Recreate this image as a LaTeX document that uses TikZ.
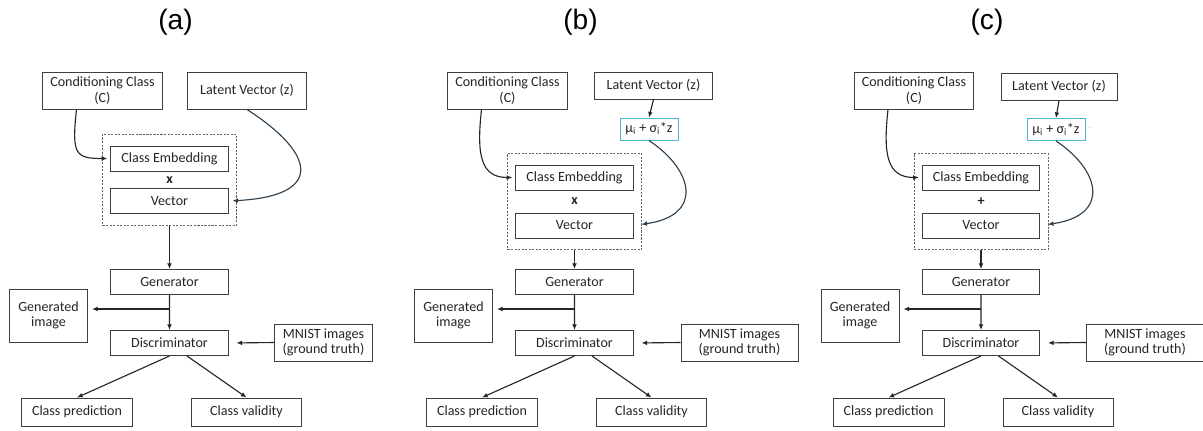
\documentclass[tikz,border=0pt]{standalone}
\usepackage{fontspec}
\setmainfont{Carlito}
\newfontfamily\titlefont{Liberation Sans}
\usetikzlibrary{arrows.meta,positioning,calc,fit}
\definecolor{edge}{HTML}{3F3F3F}
\definecolor{ink}{HTML}{262626}
\definecolor{slate}{HTML}{2B3F4F}
\definecolor{cyanln}{HTML}{4BB8D0}

\begin{document}
\begin{tikzpicture}[x=0.025cm, y=-0.025cm,
      box/.style={draw=edge, line width=0.7pt, fill=white, inner sep=2pt, align=center, text=ink,
        font=\fontsize{10}{11}\selectfont, minimum width=2.925cm, minimum height=0.625cm},
      grp/.style={draw=edge!80, dash pattern=on 1.5pt off 1pt, line width=0.6pt, inner xsep=0.2cm, inner ysep=0.28cm},
      mubox/.style={box, draw=cyanln, minimum width=1.45cm, minimum height=0.55cm},
      arr/.style={-{Latex[length=1.4mm,width=1.2mm]}, line width=0.8pt, color=ink},
      curv/.style={arr, color=slate},
      ttl/.style={font=\titlefont\fontsize{20}{24}\selectfont}]
    \useasboundingbox (0,0) rectangle (1203,430);
    % parts shared by the three panels
    \foreach \pn/\X/\ey/\vy/\op/\mw/\mx in {a/169.5/158.5/201/x/2.425/154, b/574.5/177.5/225.5/x/2.925/165, c/981/177.5/225.5/+/2.925/164}{
      \node[ttl] (title\pn) at ({\X+6},22) {(\pn)};
      \node[box, minimum width=2.975cm, minimum height=0.925cm] (cond\pn) at ({\X-67},90.5) {Conditioning Class\\(C)};
      \node[box] (emb\pn) at (\X,\ey) {Class Embedding};
      \node[box] (vec\pn) at (\X,\vy) {Vector};
      \node[font=\bfseries, text=ink, inner sep=0pt] (op\pn) at ($(emb\pn.south)!0.5!(vec\pn.north)$) {\op};
      \node[grp, fit=(emb\pn)(vec\pn)] (grp\pn) {};
      \node[box] (gen\pn) at (\X,282) {Generator};
      \node[box] (disc\pn) at (\X,343) {Discriminator};
      \node[box, minimum width=1.95cm, minimum height=1.325cm] (img\pn) at ({\X-121},315.5) {Generated\\image};
      \node[box, minimum width=\mw cm, minimum height=0.925cm] (mnist\pn) at ({\X+\mx},342.5) {MNIST images\\(ground truth)};
      \node[box, minimum width=2.775cm, minimum height=0.7cm] (pred\pn) at ({\X-92.5},412) {Class prediction};
      \node[box, minimum width=2.75cm, minimum height=0.7cm] (valid\pn) at ({\X+77},412) {Class validity};
      \coordinate (split\pn) at ($(gen\pn.south)!0.4!(disc\pn.north)$);
      \draw[arr, shorten >=0.08cm] ($(cond\pn.south)+(-26,0)$) .. controls +(-5,45) and +(-35,0) .. (emb\pn.west);
      \draw[arr] (grp\pn.south) -- (gen\pn.north);
      \draw[line width=0.8pt, ink] (gen\pn.south) -- (split\pn);
      \draw[arr] (split\pn) -- (disc\pn.north);
      \draw[arr, shorten >=0.1cm] (split\pn) -- (split\pn -| img\pn.east);
      \draw[arr, shorten >=0.2cm] (mnist\pn.west) -- (disc\pn.east);
      \draw[arr] (disc\pn.south) -- (pred\pn.north);
      \draw[arr] ($(disc\pn.south)+(17.5,0)$) -- (valid\pn.north);
    }
    % (a) latent vector straight into the vector
    \node[box, minimum width=2.95cm, minimum height=0.925cm] (latenta) at (247,90.5) {Latent Vector (z)};
    \draw[curv, shorten >=0.1cm] (latenta.south) .. controls +(70,45) and +(95,-5) .. (veca.east);
    % (b) and (c) latent vector through the class statistics
    \node[box, minimum width=2.95cm, minimum height=0.675cm] (latentb) at (653.5,85.5) {Latent Vector (z)};
    \node[mubox] (mub) at (649,129) {μ\textsubscript{i} + σ\textsubscript{i}*z};
    \draw[arr] (latentb.south) -- (mub.north);
    \draw[curv, shorten >=0.2cm] (mub.south) .. controls +(45,30) and +(70,-10) .. (vecb.east);
    \node[box, minimum width=2.9cm, minimum height=0.675cm] (latentc) at (1059,86.5) {Latent Vector (z)};
    \node[mubox] (muc) at (1056,129.5) {μ\textsubscript{i} + σ\textsubscript{i}*z};
    \node[font=\tiny, text=edge!60, inner sep=0pt] (dotc) at (1090,128) {.};
    \draw[arr] (latentc.south) -- (muc.north);
    \draw[curv, shorten >=0.2cm] (muc.south) .. controls +(45,30) and +(70,-10) .. (vecc.east);
  \end{tikzpicture}
\end{document}
